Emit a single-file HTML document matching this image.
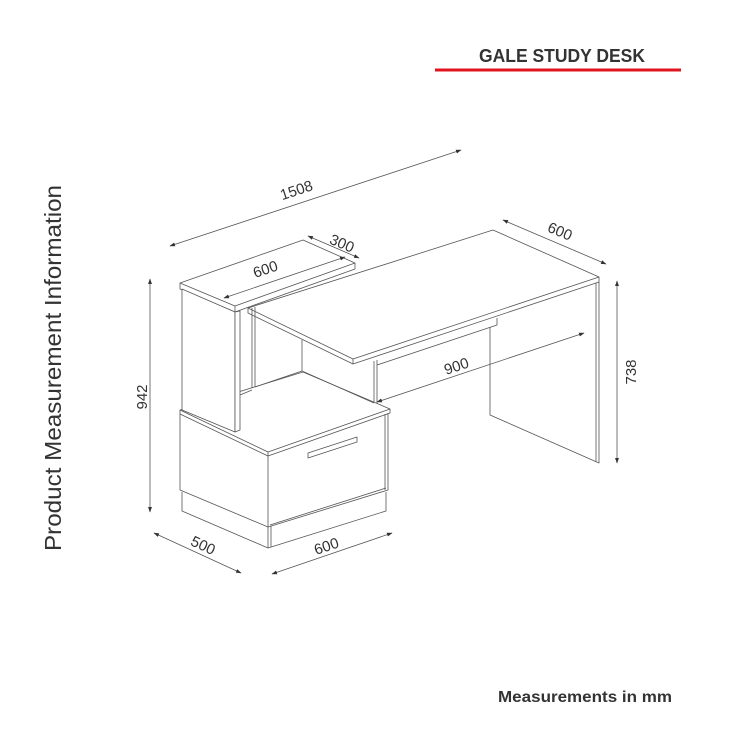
<!DOCTYPE html>
<html><head><meta charset="utf-8"><style>
html,body{margin:0;padding:0;background:#fff;width:750px;height:750px;overflow:hidden}
svg{display:block}
</style></head><body>
<svg width="750" height="750" viewBox="0 0 750 750" xmlns="http://www.w3.org/2000/svg">
<defs>
<marker id="a" viewBox="0 0 10 10" refX="9" refY="5" markerWidth="7" markerHeight="7" orient="auto-start-reverse"><path d="M0,1.5 L10,5 L0,8.5 z" fill="#333"/></marker>
</defs>
<text x="562" y="62" font-family="Liberation Sans, sans-serif" font-weight="bold" font-size="18" fill="#333" text-anchor="middle" textLength="166" lengthAdjust="spacingAndGlyphs">GALE STUDY DESK</text>
<rect x="435" y="68.5" width="246" height="3" fill="#e0141e"/>
<text transform="translate(61,551) rotate(-90)" font-family="Liberation Sans, sans-serif" font-size="23" fill="#333" textLength="366" lengthAdjust="spacingAndGlyphs">Product Measurement Information</text>
<text x="585" y="702" font-family="Liberation Sans, sans-serif" font-weight="bold" font-size="16" fill="#333" text-anchor="middle" textLength="174" lengthAdjust="spacingAndGlyphs">Measurements in mm</text>

<g fill="none" stroke="#555" stroke-width="0.8" stroke-linejoin="round">
<!-- desk top -->
<path d="M248,308 L493,230 L599,277 L353,359 Z" fill="#fff"/>
<path d="M248,308 L248,313 L353,364 L599,282 L599,277"/>
<path d="M353,359 L353,364"/>
<!-- right leg -->
<path d="M490,327 L490,415 L599,463 L599,282"/>
<path d="M596,283 L596,462"/>
<!-- modesty panel -->
<path d="M374,361 L374,402 M377,360 L377,403"/>
<path d="M377,365 L497,325 L497,318"/>
<!-- top shelf -->
<path d="M180,283 L303,240 L355,263 L235,306 Z" fill="#fff"/>
<path d="M180,283 L180,289 L235,312 L355,269 L355,263"/>
<path d="M235,306 L235,312"/>
<!-- inner back -->
<path d="M252,308 L252,388 M255,307 L255,387"/>
<path d="M302,340 L302,371"/>
<!-- cabinet -->
<path d="M180,410 L303,372 L390,409 L268,452 Z" fill="#fff"/>
<path d="M180,410 L180,414 L268,456 L390,413 L390,409"/>
<path d="M268,452 L268,456"/>
<path d="M180,414 L180,490 L268,527 M268,456 L268,527 L388,490 L388,413"/>
<path d="M385,414 L385,490"/>
<path d="M270,525 L386,488"/>
<path d="M302,371 L374,403 M302,371 L255,387"/>
<!-- left tall side panel over cabinet -->
<path d="M182,289 L235,312 L235,432 L182,410 Z" fill="#fff"/>
<path d="M235,312 L240,311 L240,430 L235,432 Z" fill="#fff"/>
<path d="M240,395 L252,390"/>
<!-- plinth -->
<path d="M182,492 L182,511 L268,548 L386,511 L386,492"/>
<path d="M268,527 L268,548 M271,526 L271,547"/>
<!-- handle -->
<path d="M308,453 L357,437 L357,442 L308,458 Z" fill="#fff"/>
</g>

<g stroke="#555" stroke-width="0.8" fill="none">
<line x1="170" y1="246" x2="461" y2="150" marker-start="url(#a)" marker-end="url(#a)"/>
<line x1="308" y1="236" x2="359" y2="258" marker-start="url(#a)" marker-end="url(#a)"/>
<line x1="224" y1="298" x2="345" y2="257" marker-start="url(#a)" marker-end="url(#a)"/>
<line x1="503" y1="220" x2="606" y2="264" marker-start="url(#a)" marker-end="url(#a)"/>
<line x1="617" y1="281" x2="617" y2="463" marker-start="url(#a)" marker-end="url(#a)"/>
<line x1="150" y1="279" x2="150" y2="512" marker-start="url(#a)" marker-end="url(#a)"/>
<line x1="377" y1="402" x2="584" y2="333" marker-start="url(#a)" marker-end="url(#a)"/>
<line x1="154" y1="533" x2="241" y2="573" marker-start="url(#a)" marker-end="url(#a)"/>
<line x1="272" y1="574" x2="392" y2="533" marker-start="url(#a)" marker-end="url(#a)"/>
</g>

<g font-family="Liberation Sans, sans-serif" font-size="15" fill="#333" text-anchor="middle">
<text transform="translate(298,195) rotate(-18.3)">1508</text>
<text transform="translate(340,248) rotate(23)">300</text>
<text transform="translate(267,274) rotate(-18.5)">600</text>
<text transform="translate(558,236) rotate(23)">600</text>
<text transform="translate(636,372) rotate(-90)">738</text>
<text transform="translate(147,397) rotate(-90)">942</text>
<text transform="translate(458,371) rotate(-18.5)">900</text>
<text transform="translate(201,550) rotate(25)">500</text>
<text transform="translate(328,551) rotate(-18.5)">600</text>
</g>
</svg>
</body></html>
